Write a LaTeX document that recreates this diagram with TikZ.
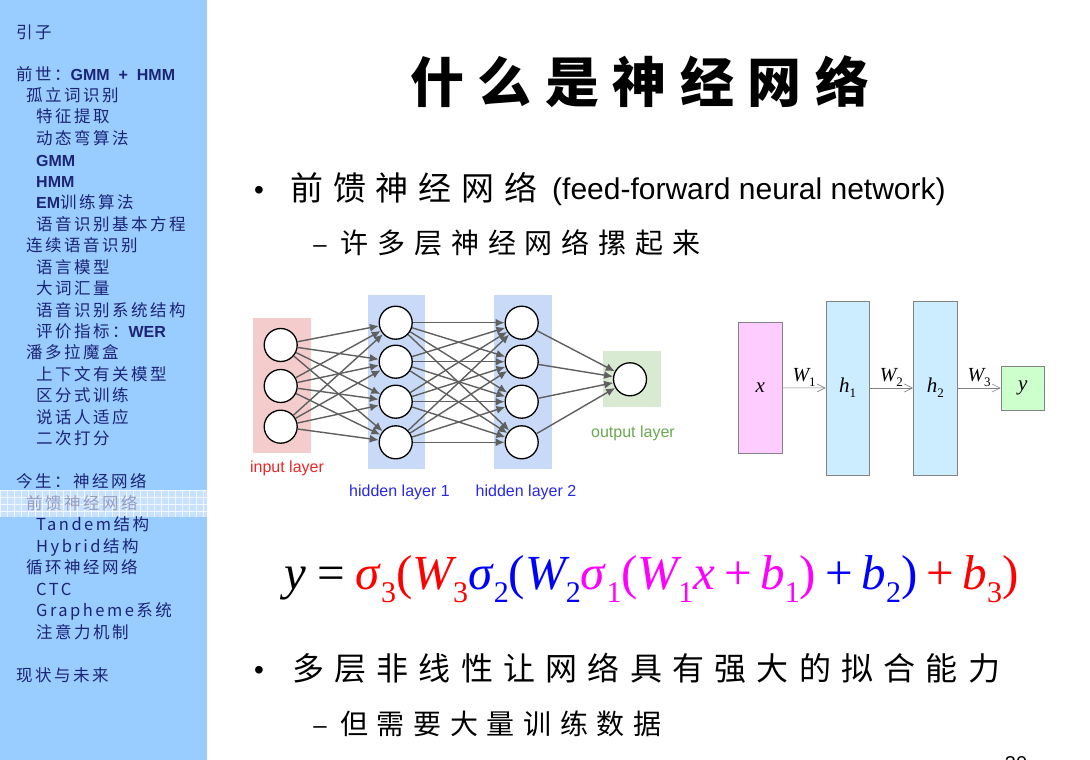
\documentclass[tikz,border=0pt]{standalone}
\usepackage{fontspec}
\setmainfont{Liberation Sans}
\newfontfamily\cjk{Noto Sans CJK SC}
\newfontfamily\serif{Liberation Serif}
\newfontfamily\latb{Liberation Sans}
\usetikzlibrary{arrows.meta}
\definecolor{sidebg}{RGB}{153,204,255}
\definecolor{sidetxt}{RGB}{28,36,120}
\definecolor{hlbg}{RGB}{200,225,255}
\definecolor{hltxt}{RGB}{150,156,190}
\definecolor{inbg}{RGB}{244,204,204}
\definecolor{hidbg}{RGB}{201,218,248}
\definecolor{outbg}{RGB}{217,234,211}
\definecolor{edgegray}{RGB}{95,95,95}
\definecolor{inred}{RGB}{230,40,40}
\definecolor{hidblue}{RGB}{40,40,230}
\definecolor{outgreen}{RGB}{106,168,79}
\definecolor{xpink}{RGB}{255,204,255}
\definecolor{hcyan}{RGB}{204,236,255}
\definecolor{ygreen}{RGB}{204,255,204}
\definecolor{boxgray}{RGB}{130,130,130}
\definecolor{fred}{RGB}{255,0,0}
\definecolor{fblue}{RGB}{0,0,255}
\definecolor{fmag}{RGB}{255,0,255}
\newcommand\sidefont{\cjk\fontsize{16.5}{18}\selectfont\addfontfeature{LetterSpace=15}}
\newcommand\slat[1]{{\latb\bfseries\fontsize{16}{18}\selectfont #1}}
\newcommand\mysub[1]{\raisebox{-0.28em}{\fontsize{30}{30}\selectfont\upshape #1}}
\newcommand\mi[1]{\textit{#1}}
\newcommand\rsub[1]{\raisebox{-0.25em}{\fontsize{13}{13}\selectfont\upshape #1}}
\begin{document}
\begin{tikzpicture}[x=1pt,y=-1pt,
  side/.style={anchor=base west, inner sep=0, text=sidetxt, font=\sidefont},
  neuron/.style={circle, draw=black, line width=1.3pt, fill=white, minimum size=33pt, inner sep=0},
  netedge/.style={draw=edgegray, line width=1.4pt, -{Latex[length=9pt,width=8pt]}},
  rbox/.style={draw=boxgray, line width=0.6pt, inner sep=0},
  rarrow/.style={draw=boxgray, line width=0.6pt, -{Straight Barb[length=8pt,width=8pt]}},
  wlab/.style={font=\serif\fontsize{20}{20}\selectfont\itshape, inner sep=1pt, anchor=south},
  rlab/.style={font=\serif\fontsize{21}{21}\selectfont\itshape},
  layerlab/.style={font=\fontsize{16}{16}\selectfont, inner sep=0},
  cjkline/.style={anchor=base west, inner sep=0},
  bullet/.style={anchor=base, inner sep=0, font=\fontsize{28}{28}\selectfont},
  dashmark/.style={anchor=base, inner sep=0, font=\fontsize{24}{24}\selectfont},
  gridline/.style={draw=white, line width=0.5pt, opacity=0.75}
]
\useasboundingbox (0,0) rectangle (1090,760);
\fill[white] (0,0) rectangle (1090,760);
% sidebar
\fill[sidebg] (0,0) rectangle (207,760);
\fill[hlbg] (0,490) rectangle (207,517);
\foreach \gx in {0,7,...,203} \draw[gridline] (\gx,490) -- (\gx,517);
\foreach \gy in {490,497,...,517} \draw[gridline] (0,\gy) -- (207,\gy);

\node[side] (s1) at (16,38.3) {引子};
\node[side] (s2) at (16,80.3) {前世：\slat{GMM\ \ +\ \ HMM}};
\node[side] (s3) at (26,101.3) {孤立词识别};
\node[side] (s4) at (36,122.3) {特征提取};
\node[side] (s5) at (36,144.3) {动态弯算法};
\node[side] (s6) at (36,166.3) {\slat{GMM}};
\node[side] (s7) at (36,187.3) {\slat{HMM}};
\node[side] (s8) at (36,208.3) {\slat{EM}训练算法};
\node[side] (s9) at (36,230.3) {语音识别基本方程};
\node[side] (s10) at (26,251.3) {连续语音识别};
\node[side] (s11) at (36,273.3) {语言模型};
\node[side] (s12) at (36,294.3) {大词汇量};
\node[side] (s13) at (36,316.3) {语音识别系统结构};
\node[side] (s14) at (36,337.3) {评价指标：\slat{WER}};
\node[side] (s15) at (26,358.3) {潘多拉魔盒};
\node[side] (s16) at (36,380.3) {上下文有关模型};
\node[side] (s17) at (36,401.3) {区分式训练};
\node[side] (s18) at (36,423.3) {说话人适应};
\node[side] (s19) at (36,444.3) {二次打分};
\node[side] (s20) at (16,487.3) {今生：神经网络};
\node[side, text=hltxt] (s21) at (26,509.3) {前馈神经网络};
\node[side] (s22) at (36,530.3) {Tandem结构};
\node[side] (s23) at (36,552.3) {Hybrid结构};
\node[side] (s24) at (26,573.3) {循环神经网络};
\node[side] (s25) at (36,595.3) {CTC};
\node[side] (s26) at (36,616.3) {Grapheme系统};
\node[side] (s27) at (36,638.3) {注意力机制};
\node[side] (s28) at (16,681.3) {现状与未来};

% title
\node[cjkline] (title) at (410,102.5) {\cjk\bfseries\fontsize{54}{60}\selectfont\addfontfeature{LetterSpace=25}什么是神经网络};

% bullet 1
\node[bullet] (b1) at (259,199) {•};
\node[cjkline] (b1t) at (290,200.5) {\cjk\fontsize{33}{36}\selectfont\addfontfeature{LetterSpace=30}前馈神经网络};
\node[cjkline] (b1e) at (552,199.5) {\fontsize{30}{32}\selectfont (feed-forward neural network)};
\node[dashmark] (d1) at (320,252.6) {–};
\node[cjkline] (d1t) at (340,253.6) {\cjk\fontsize{28}{30}\selectfont\addfontfeature{LetterSpace=32}许多层神经网络摞起来};

% neural network figure
\fill[inbg] (252.7,317.7) rectangle (310.7,452.7);
\fill[hidbg] (367.7,295) rectangle (425,469.3);
\fill[hidbg] (494,295) rectangle (551.7,469.3);
\fill[outbg] (603.3,351) rectangle (660.7,406.7);

\node[neuron] (ia1) at (280.7,345) {};
\node[neuron] (ia2) at (280.7,386) {};
\node[neuron] (ia3) at (280.7,426.7) {};
\node[neuron] (hb1) at (395.7,322.7) {};
\node[neuron] (hb2) at (395.7,361.7) {};
\node[neuron] (hb3) at (395.7,401.7) {};
\node[neuron] (hb4) at (395.7,442.3) {};
\node[neuron] (hc1) at (521.7,322.7) {};
\node[neuron] (hc2) at (521.7,361.7) {};
\node[neuron] (hc3) at (521.7,401.7) {};
\node[neuron] (hc4) at (521.7,442.3) {};
\node[neuron] (out) at (630,379.3) {};

\foreach \a in {1,2,3} \foreach \b in {1,2,3,4} \draw[netedge] (ia\a) -- (hb\b);
\foreach \a in {1,2,3,4} \foreach \b in {1,2,3,4} \draw[netedge] (hb\a) -- (hc\b);
\foreach \a in {1,2,3,4} \draw[netedge] (hc\a) -- (out);

\node[layerlab, text=inred] (linput) at (287,468) {input layer};
\node[layerlab, text=hidblue] (lh1) at (399.5,492) {hidden layer 1};
\node[layerlab, text=hidblue] (lh2) at (526,492) {hidden layer 2};
\node[layerlab, text=outgreen] (lout) at (633,433) {output layer};

% right block diagram
\node[rbox, fill=xpink, minimum width=44pt, minimum height=131pt] (bx) at (760.3,387.8) {};
\node[rbox, fill=hcyan, minimum width=43.5pt, minimum height=174pt] (bh1) at (847.7,388) {};
\node[rbox, fill=hcyan, minimum width=44pt, minimum height=174pt] (bh2) at (935.3,388) {};
\node[rbox, fill=ygreen, minimum width=43.5pt, minimum height=44pt] (by) at (1022.7,388) {};
\node[rlab] (tx) at (bx) {x};
\node[rlab] (th1) at (bh1) {h\rsub{1}};
\node[rlab] (th2) at (bh2) {h\rsub{2}};
\node[rlab] (ty) at (by) {y};
\draw[rarrow] (bx) -- node[wlab] {W\rsub{1}} (bh1);
\draw[rarrow] (bh1) -- node[wlab] {W\rsub{2}} (bh2);
\draw[rarrow] (bh2) -- node[wlab] {W\rsub{3}} (by);

% formula
\node[anchor=base, inner sep=0] (formula) at (651.5,589) {\serif\fontsize{49}{51}\selectfont
\mi{y}\hspace{0.22em}=\hspace{0.22em}%
\textcolor{fred}{\mi{σ}\mysub{3}(\mi{W}\kern-0.08em\mysub{3}}%
\textcolor{fblue}{\mi{σ}\mysub{2}(\mi{W}\kern-0.08em\mysub{2}}%
\textcolor{fmag}{\mi{σ}\mysub{1}(\mi{W}\kern-0.08em\mysub{1}\mi{x}\hspace{0.18em}+\hspace{0.18em}\mi{b}\mysub{1})}%
\textcolor{fblue}{\hspace{0.18em}+\hspace{0.18em}\mi{b}\mysub{2})}%
\textcolor{fred}{\hspace{0.18em}+\hspace{0.18em}\mi{b}\mysub{3})}};

% bullet 2
\node[bullet] (b2) at (259,679) {•};
\node[cjkline] (b2t) at (292,680) {\cjk\fontsize{32}{36}\selectfont\addfontfeature{LetterSpace=32}多层非线性让网络具有强大的拟合能力};
\node[dashmark] (d2) at (320,733.6) {–};
\node[cjkline] (d2t) at (340,734.6) {\cjk\fontsize{28}{30}\selectfont\addfontfeature{LetterSpace=31}但需要大量训练数据};

% page number
\node[inner sep=0, font=\fontsize{20}{20}\selectfont] (pg) at (1016,764) {30};
\end{tikzpicture}
\end{document}
